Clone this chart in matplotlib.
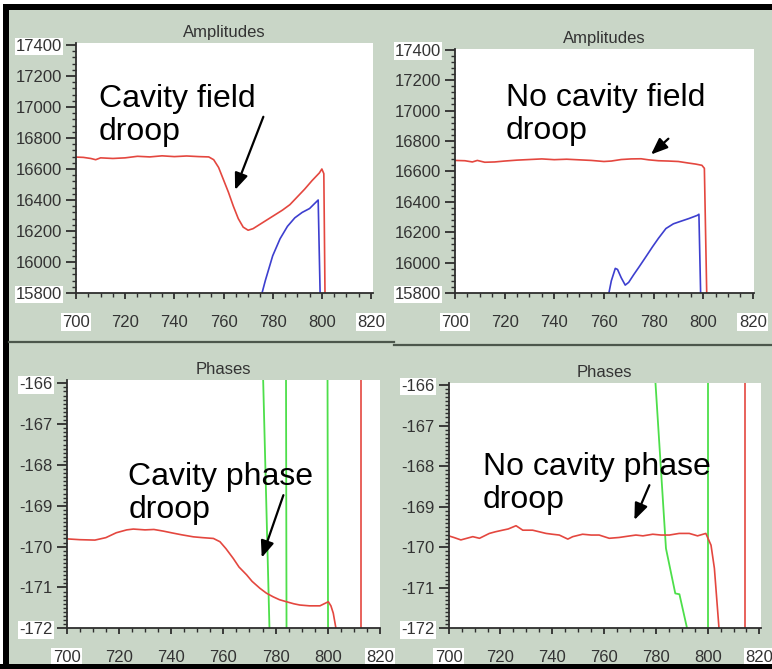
import matplotlib
matplotlib.use("Agg")
import matplotlib.pyplot as plt
from matplotlib.patches import Rectangle
from matplotlib.lines import Line2D
from matplotlib.ticker import MultipleLocator
from matplotlib import font_manager

plt.rcParams["axes.unicode_minus"] = False

# --- amplitude traces, left (with droop) ---
amp_l_red_t = [700, 703, 706, 708, 710, 715, 720, 725, 730, 735, 740, 745, 750, 754,
               756, 758, 760, 762, 764, 766, 768, 770, 772, 775, 778, 781, 784, 787,
               790, 793, 796, 799, 800, 800.8, 801.3]
amp_l_red = [16677, 16675, 16668, 16660, 16672, 16668, 16672, 16682, 16678, 16685, 16680,
             16684, 16680, 16678, 16660, 16610, 16530, 16450, 16360, 16280, 16225, 16205,
             16215, 16245, 16275, 16305, 16335, 16370, 16420, 16470, 16525, 16575, 16600,
             16570, 15750]
amp_l_blue_t = [775.5, 777, 780, 783, 786, 789, 792, 795, 798.5, 799.3]
amp_l_blue = [15790, 15880, 16040, 16150, 16230, 16285, 16320, 16345, 16400, 15790]

# --- amplitude traces, right (no droop) ---
amp_r_red_t = [700, 704, 707, 709, 712, 716, 720, 725, 730, 735, 740, 745, 750, 755, 760,
               763, 767, 771, 775, 778, 782, 786, 790, 794, 797, 799.5, 800.5, 801.5]
amp_r_red = [16672, 16670, 16662, 16672, 16660, 16662, 16668, 16674, 16678, 16682, 16677,
             16680, 16676, 16672, 16665, 16668, 16678, 16682, 16683, 16676, 16670, 16668,
             16665, 16655, 16648, 16640, 16620, 15750]
amp_r_blue_t = [761.9, 763, 764.6, 765.5, 767, 768.6, 770, 772, 774.2, 777, 779.6, 782,
                785, 788, 790.3, 794.3, 797.7, 798.3, 799]
amp_r_blue = [15790, 15880, 15962, 15955, 15900, 15852, 15870, 15920, 15972, 16040, 16104,
              16160, 16224, 16255, 16268, 16290, 16311, 16318, 15790]

# --- phase traces, left (with droop) ---
ph_l_red_t = [700, 705, 710.8, 715, 719, 723, 725.5, 730, 733.4, 737, 740.8, 744, 748.5,
              752, 756.2, 758.7, 761, 763.8, 766, 768.9, 771, 774, 776.5, 779.1, 781.5,
              784.2, 787, 789.3, 793, 797, 800.2, 801.2, 802.1, 803.4]
ph_l_red = [-169.81, -169.83, -169.84, -169.78, -169.66, -169.59, -169.57, -169.59, -169.58,
            -169.62, -169.67, -169.71, -169.76, -169.78, -169.8, -169.88, -170.05, -170.29,
            -170.5, -170.69, -170.85, -171.02, -171.14, -171.23, -171.3, -171.35, -171.4,
            -171.43, -171.45, -171.45, -171.35, -171.45, -171.63, -172.1]
ph_l_green = [([775.2, 777.7], [-165.8, -172.1]),
              ([784.0, 784.2], [-165.8, -172.1]),
              ([799.9, 800.1], [-165.8, -172.1])]
ph_l_red_wrap = ([812.7, 812.7], [-165.8, -172.1])

# --- phase traces, right (no droop) ---
ph_r_red_t = [700, 702, 704.7, 707, 709.3, 711.9, 715.7, 718, 720.8, 723, 726, 728.6,
              732.4, 735, 737.6, 740, 742.7, 746, 747.9, 751.7, 755, 758.1, 762, 765.8,
              769, 772.3, 775, 778.8, 782, 785.2, 789, 792.9, 796.1, 799.3, 801.3, 802.6,
              804.5]
ph_r_red = [-169.72, -169.76, -169.82, -169.78, -169.74, -169.78, -169.66, -169.62, -169.58,
            -169.55, -169.47, -169.58, -169.58, -169.62, -169.66, -169.68, -169.7, -169.8,
            -169.74, -169.68, -169.7, -169.7, -169.78, -169.76, -169.73, -169.7, -169.72,
            -169.68, -169.7, -169.7, -169.66, -169.66, -169.72, -169.66, -169.95, -170.52,
            -172.1]
ph_r_green_t = [779.8, 783.9, 787.5, 789.1, 792.4]
ph_r_green = [-165.9, -170.03, -171.14, -171.16, -172.1]
ph_r_green_wrap = ([800.0, 800.0], [-165.9, -172.1])
ph_r_red_wrap = ([814.5, 814.5], [-165.9, -172.1])

x_ticks = [700, 720, 740, 760, 780, 800, 820]
amp_ticks = [15800, 16000, 16200, 16400, 16600, 16800, 17000, 17200, 17400]
ph_ticks = [-172, -171, -170, -169, -168, -167, -166]

W, H = 772, 669
RED, BLUE, GREEN = "#e4473f", "#3d3fcf", "#4ddf4a"
PANEL = "#c9d6c7"
INK = "#2e2e2e"

installed = {f.name for f in font_manager.fontManager.ttflist}
narrow = "Liberation Sans Narrow" if "Liberation Sans Narrow" in installed else "Liberation Sans"


def px_rect(left, top, right, bottom):
    # pixel box measured from the top-left corner -> figure fraction
    return [left / W, 1 - bottom / H, (right - left) / W, (bottom - top) / H]


def add_box(fig, left, top, right, bottom, color, z):
    x, y, w, h = px_rect(left, top, right, bottom)
    fig.add_artist(Rectangle((x, y), w, h, transform=fig.transFigure,
                             facecolor=color, edgecolor="none", zorder=z))


def style(ax, title, xlim, ylim, yticks, yminor):
    ax.set_facecolor("white")
    ax.set_xlim(*xlim)
    ax.set_ylim(*ylim)
    ax.set_xticks(x_ticks)
    ax.xaxis.set_minor_locator(MultipleLocator(5))
    ax.set_yticks(yticks)
    ax.yaxis.set_minor_locator(MultipleLocator(yminor))
    for s in ("top", "right"):
        ax.spines[s].set_visible(False)
    for s in ("left", "bottom"):
        ax.spines[s].set_color(INK)
        ax.spines[s].set_linewidth(1.3)
    ax.tick_params(which="major", direction="out", length=7, width=1.3, color=INK,
                   labelsize=12, labelcolor="#333333", pad=3)
    ax.tick_params(axis="x", which="major", length=4.5, pad=11)
    ax.tick_params(which="minor", direction="out", length=3, width=1, color=INK)
    ax.set_title(title, fontsize=12, color="#333333", family=narrow, pad=4)
    xl = ax.get_xticklabels()
    yl = ax.get_yticklabels()
    for lbl in xl + yl:
        lbl.set_family(narrow)
    for lbl in (xl[0], xl[-1], yl[0], yl[-1]):
        lbl.set_bbox(dict(facecolor="white", edgecolor="none", pad=1))


def note(ax, x, y, text, tail, tip):
    # y is the baseline of the last line
    ax.text(x, y, text, fontsize=23, family="Liberation Sans", color="black",
            va="baseline", linespacing=1.12)
    ax.annotate("", xy=tip, xytext=tail,
                arrowprops=dict(arrowstyle="-|>,head_length=0.5,head_width=0.2",
                                color="black", lw=1.6, mutation_scale=20,
                                shrinkA=0, shrinkB=0))


fig = plt.figure(figsize=(W / 100, H / 100), dpi=100, facecolor="white")

# frame: black border, green-grey panels, divider between rows
add_box(fig, 3, 4, W, H, "black", -3)
add_box(fig, 9, 10, W, 664, PANEL, -2)
for x0, x1, yy in ((9, 394, 342), (394, W, 345)):
    fig.add_artist(Line2D([x0 / W, x1 / W], [1 - yy / H, 1 - yy / H],
                          transform=fig.transFigure, color="#4c574c", lw=1.6, zorder=-1))

# top-left: amplitudes with field droop
ax1 = fig.add_axes(px_rect(76, 43, 373, 293))
ax1.plot(amp_l_red_t, amp_l_red, color=RED, lw=1.2)
ax1.plot(amp_l_blue_t, amp_l_blue, color=BLUE, lw=1.2)
style(ax1, "Amplitudes", (700, 820.8), (15800, 17413), amp_ticks, 40)
note(ax1, 709.4, 16787, "Cavity field\ndroop", (776.2, 16937), (764.7, 16465))

# top-right: amplitudes without droop
ax2 = fig.add_axes(px_rect(455, 49, 754, 293))
ax2.plot(amp_r_red_t, amp_r_red, color=RED, lw=1.2)
ax2.plot(amp_r_blue_t, amp_r_blue, color=BLUE, lw=1.2)
style(ax2, "Amplitudes", (700, 820.5), (15800, 17405), amp_ticks, 40)
note(ax2, 720.6, 16816, "No cavity field\ndroop", (786.0, 16815), (779.0, 16711))

# bottom-left: phases with droop
ax3 = fig.add_axes(px_rect(66.7, 380, 380, 628.3))
for gx, gy in ph_l_green:
    ax3.plot(gx, gy, color=GREEN, lw=1.3)
ax3.plot(*ph_l_red_wrap, color=RED, lw=1.2)
ax3.plot(ph_l_red_t, ph_l_red, color=RED, lw=1.2)
style(ax3, "Phases", (700, 820), (-172, -165.92), ph_ticks, 0.1)
note(ax3, 723.6, -169.30, "Cavity phase\ndroop", (783.0, -168.74), (774.7, -170.27))

# bottom-right: phases without droop
ax4 = fig.add_axes(px_rect(448.7, 383, 761, 628.3))
ax4.plot(ph_r_green_t, ph_r_green, color=GREEN, lw=1.3)
ax4.plot(*ph_r_green_wrap, color=GREEN, lw=1.3)
ax4.plot(*ph_r_red_wrap, color=RED, lw=1.2)
ax4.plot(ph_r_red_t, ph_r_red, color=RED, lw=1.2)
style(ax4, "Phases", (700, 820.6), (-172, -165.95), ph_ticks, 0.1)
note(ax4, 713.1, -169.03, "No cavity phase\ndroop", (777.5, -168.47), (771.7, -169.33))

# bottom edge of the frame sits over the lower tick labels
add_box(fig, 0, 664, W, H, "black", 10)

fig.savefig("out.png", dpi=100, facecolor=fig.get_facecolor())
